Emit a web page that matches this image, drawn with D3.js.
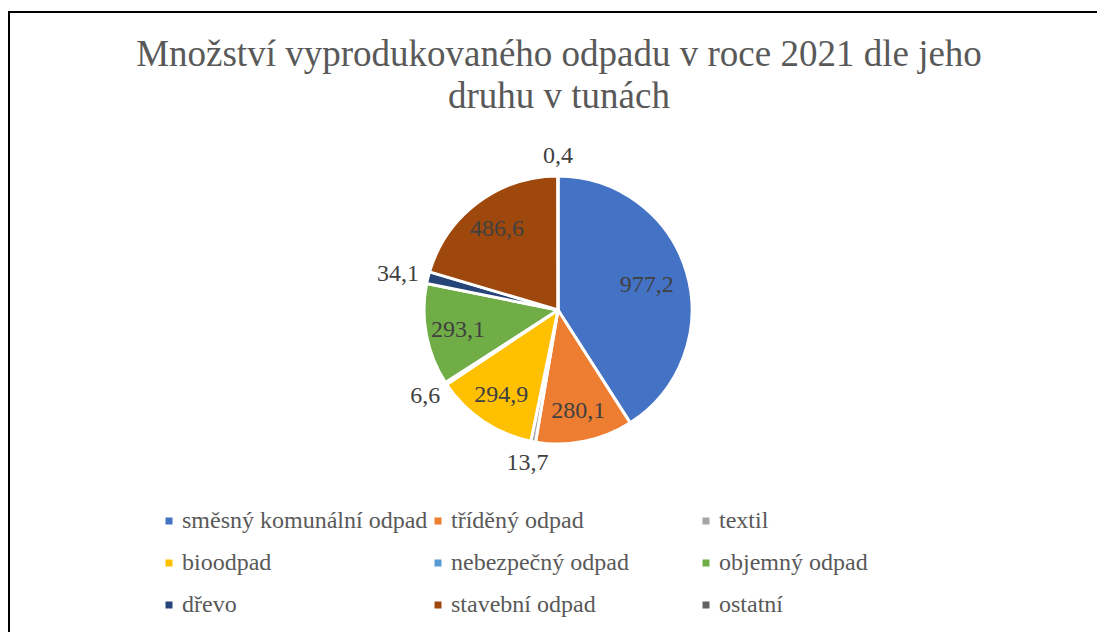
<!DOCTYPE html>
<html><head><meta charset="utf-8">
<script src="https://cdn.jsdelivr.net/npm/d3@7"></script>
<style>html,body{margin:0;padding:0;background:#fff;overflow:hidden;}svg{display:block;}
.ser{font-family:"Liberation Serif";}</style>
</head><body>
<svg id="c" width="1097" height="632"></svg>
<script>
const categories = ["směsný komunální odpad","tříděný odpad","textil","bioodpad","nebezpečný odpad","objemný odpad","dřevo","stavební odpad","ostatní"];
const values = [977.2, 280.1, 13.7, 294.9, 6.6, 293.1, 34.1, 486.6, 0.4];
const colors = ["#4472C4","#ED7D31","#A5A5A5","#FFC000","#5B9BD5","#70AD47","#264478","#9E480E","#636363"];
const titleLines = ["Množství vyprodukovaného odpadu v roce 2021 dle jeho","druhu v tunách"];

const svg = d3.select("#c");

svg.append("rect").attr("x",9).attr("y",12).attr("width",1200).attr("height",700)
  .attr("fill","#fff").attr("stroke","#000").attr("stroke-width",2);

svg.append("g").selectAll("text").data(titleLines).join("text").attr("class","ser")
  .attr("x",559).attr("y",(d,i)=>66+i*42).attr("text-anchor","middle")
  .attr("font-size",37).attr("fill","#595959").text(d=>d);

const cx=558, cy=310, R=134;
const data = categories.map((c,i)=>({cat:c,value:values[i],color:colors[i]}));
const pie = d3.pie().value(d=>d.value).sort(null);
const arcs = pie(data);
const arc = d3.arc().innerRadius(0).outerRadius(R);
const g = svg.append("g").attr("transform",`translate(${cx},${cy})`);
g.selectAll("path").data(arcs).join("path").attr("d",arc)
  .attr("fill",d=>d.data.color).attr("stroke","#fff").attr("stroke-width",3).attr("stroke-linejoin","round");

const fmt = v => d3.format(".1f")(v).replace(".",",");
const total = d3.sum(values);
arcs.forEach(a=>{
  const mid=(a.startAngle+a.endAngle)/2;
  const dx=Math.sin(mid), dy=-Math.cos(mid);
  const frac=a.data.value/total;
  const t=g.append("text").attr("class","ser").attr("font-size",24).attr("fill","#404040")
    .attr("text-anchor","middle").attr("dominant-baseline","central").text(fmt(a.data.value));
  if(frac>0.08){
    const r=R*(frac>0.3?0.69:0.76);
    t.attr("x",dx*r).attr("y",dy*r);
  } else {
    const w=t.node().getComputedTextLength()/2, h=11;
    const r=R+10;
    t.attr("x",dx*r+dx*w).attr("y",dy*r+dy*h);
  }
});

const legX=[169,438,706], legY=[521,563,605];
const lg=svg.append("g");
data.forEach((d,i)=>{
  const col=i%3,row=Math.floor(i/3);
  lg.append("rect").attr("x",legX[col]-3.5).attr("y",legY[row]-3.5).attr("width",7).attr("height",7).attr("fill",d.color);
  lg.append("text").attr("class","ser").attr("x",legX[col]+13).attr("y",legY[row]+7)
    .attr("font-size",24).attr("fill","#595959").text(d.cat);
});
</script>
</body></html>
